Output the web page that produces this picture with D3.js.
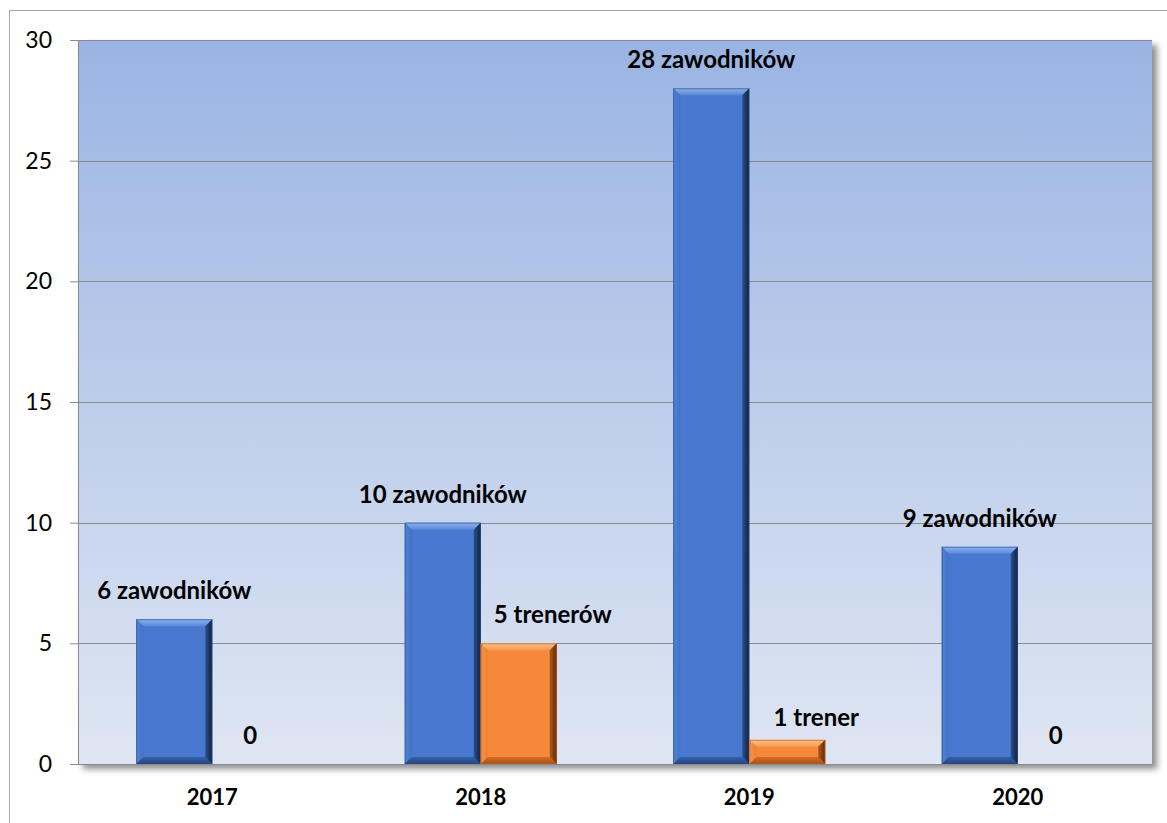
<!DOCTYPE html>
<html>
<head>
<meta charset="utf-8">
<script src="https://cdn.jsdelivr.net/npm/d3@7"></script>
<style>
html,body{margin:0;padding:0;background:#fff;}
svg{display:block;}
text{font-family:Lato,"Open Sans",sans-serif;}
</style>
</head>
<body>
<svg id="chart" width="1167" height="823"></svg>
<script>
const years = ["2017", "2018", "2019", "2020"];
const zawodnicy = [6, 10, 28, 9];
const trenerzy = [0, 5, 1, 0];
const zawodnicyLabels = ["6 zawodników", "10 zawodników", "28 zawodników", "9 zawodników"];
const trenerzyLabels = ["0", "5 trenerów", "1 trener", "0"];
const yTicks = [0, 5, 10, 15, 20, 25, 30];
const seriesKeys = ["zawodnicy", "trenerzy"];

const svg = d3.select("#chart");
const W = 1167, H = 823;
const plot = {left: 78, right: 1152, top: 40, bottom: 764};
// manual label nudges (as placed in the original chart)
const labelNudge = {"2018|trenerzy": [34, 0], "2019|trenerzy": [29, 6]};

const defs = svg.append("defs");
const bg = defs.append("linearGradient").attr("id","bgGrad").attr("x1",0).attr("y1",0).attr("x2",0).attr("y2",1);
bg.append("stop").attr("offset","0%").attr("stop-color","#9ab4e3");
bg.append("stop").attr("offset","100%").attr("stop-color","#dfe6f3");
const sh = defs.append("filter").attr("id","shadow").attr("x","-5%").attr("y","-5%").attr("width","115%").attr("height","115%");
sh.append("feDropShadow").attr("dx",5).attr("dy",5).attr("stdDeviation",3).attr("flood-color","#000").attr("flood-opacity",0.45);

function grad(id, c1, c2, vertical) {
  const g = defs.append("linearGradient").attr("id", id)
    .attr("x1",0).attr("y1",0).attr("x2", vertical?0:1).attr("y2", vertical?1:0);
  g.append("stop").attr("offset","0%").attr("stop-color",c1);
  g.append("stop").attr("offset","100%").attr("stop-color",c2);
}
const palette = {
  zawodnicy: {face:"#4878cf", top:["#8db3f0","#5b88d8"], right:["#2d5090","#101f3c"], bottom:["#3560a8","#26457e"], left:["#5283d8","#4272c6"], edge:"#2a4a86"},
  trenerzy: {face:"#f5883a", top:["#fcc08a","#f79a50"], right:["#b0581a","#5e2a06"], bottom:["#d26d22","#a8521a"], left:["#f8954a","#ef8133"], edge:"#b45a1a"}
};
for (const k of seriesKeys) {
  const p = palette[k];
  grad(k+"Top", p.top[0], p.top[1], true);
  grad(k+"Right", p.right[0], p.right[1], false);
  grad(k+"Bottom", p.bottom[0], p.bottom[1], true);
  grad(k+"Left", p.left[0], p.left[1], false);
}

// outer chart border (clipped by the page like the reference)
svg.append("rect").attr("x",9.5).attr("y",10.5).attr("width",W+20).attr("height",H+20)
  .attr("fill","#fff").attr("stroke","#a6a6a6").attr("stroke-width",1);

const y = d3.scaleLinear().domain([0, 30]).range([plot.bottom, plot.top]);
const x0 = d3.scaleBand().domain(years).range([plot.left, plot.right]).paddingInner(0.434).paddingOuter(0.217);
const x1 = d3.scaleBand().domain(seriesKeys).range([0, x0.bandwidth()]).padding(0);

// plot area with shadow
svg.append("rect").attr("x",plot.left).attr("y",plot.top)
  .attr("width",plot.right-plot.left).attr("height",plot.bottom-plot.top)
  .attr("fill","url(#bgGrad)").attr("filter","url(#shadow)");

// gridlines
svg.append("g").selectAll("line").data(yTicks).join("line")
  .attr("x1",plot.left).attr("x2",plot.right)
  .attr("y1",d=>Math.round(y(d))+0.5).attr("y2",d=>Math.round(y(d))+0.5)
  .attr("stroke","#8a8a8a").attr("stroke-width",1);

// y axis
const yAxis = svg.append("g").attr("transform",`translate(${plot.left},0)`)
  .call(d3.axisLeft(y).tickValues(yTicks).tickSize(8).tickPadding(18).tickFormat(d3.format("d")));
yAxis.select(".domain").attr("stroke","#8a8a8a");
yAxis.selectAll(".tick line").attr("stroke","#8a8a8a");
yAxis.selectAll(".tick text").attr("font-size",23).attr("fill","#000").style("font-family","Lato, sans-serif");

// x axis labels
const xAxis = svg.append("g").attr("transform",`translate(0,${plot.bottom})`)
  .call(d3.axisBottom(x0).tickSize(0).tickPadding(25));
xAxis.select(".domain").remove();
xAxis.selectAll(".tick text").attr("font-size",22).attr("font-weight","bold").attr("fill","#000").style("font-family","Lato, sans-serif");

// bars
const rows = years.map((yr,i)=>({year:yr, vals:[
  {key:"zawodnicy", v:zawodnicy[i], label:zawodnicyLabels[i]},
  {key:"trenerzy", v:trenerzy[i], label:trenerzyLabels[i]}
]}));

const groups = svg.append("g").selectAll("g").data(rows).join("g")
  .attr("transform", d=>`translate(${x0(d.year)},0)`);

groups.each(function(row){
  const g = d3.select(this);
  row.vals.forEach(d=>{
    const bx = x1(d.key), bw = x1.bandwidth();
    const by = y(d.v), bh = y(0) - y(d.v);
    if (bh > 0) {
      const b = Math.min(7, bh/2.5);
      const bar = g.append("g");
      bar.append("rect").attr("x",bx).attr("y",by).attr("width",bw).attr("height",bh).attr("fill",palette[d.key].face);
      const pts = (arr)=>arr.map(p=>p.join(",")).join(" ");
      bar.append("polygon").attr("points",pts([[bx,by],[bx+bw,by],[bx+bw-b,by+b],[bx+b,by+b]])).attr("fill",`url(#${d.key}Top)`);
      bar.append("polygon").attr("points",pts([[bx,by],[bx+b,by+b],[bx+b,by+bh-b],[bx,by+bh]])).attr("fill",`url(#${d.key}Left)`);
      bar.append("polygon").attr("points",pts([[bx,by+bh],[bx+b,by+bh-b],[bx+bw-b,by+bh-b],[bx+bw,by+bh]])).attr("fill",`url(#${d.key}Bottom)`);
      bar.append("polygon").attr("points",pts([[bx+bw,by],[bx+bw,by+bh],[bx+bw-b,by+bh-b],[bx+bw-b,by+b]])).attr("fill",`url(#${d.key}Right)`);
      bar.append("rect").attr("x",bx+0.5).attr("y",by+0.5).attr("width",bw-1).attr("height",bh-1)
        .attr("fill","none").attr("stroke",palette[d.key].edge).attr("stroke-width",1).attr("stroke-opacity",0.6);
    }
    const nudge = labelNudge[row.year+"|"+d.key] || [0,0];
    g.append("text").attr("x",bx+bw/2+nudge[0]).attr("y",by-20+nudge[1])
      .attr("text-anchor","middle").attr("font-size",24).attr("font-weight","bold").attr("fill","#000")
      .text(d.label);
  });
});
</script>
</body>
</html>
